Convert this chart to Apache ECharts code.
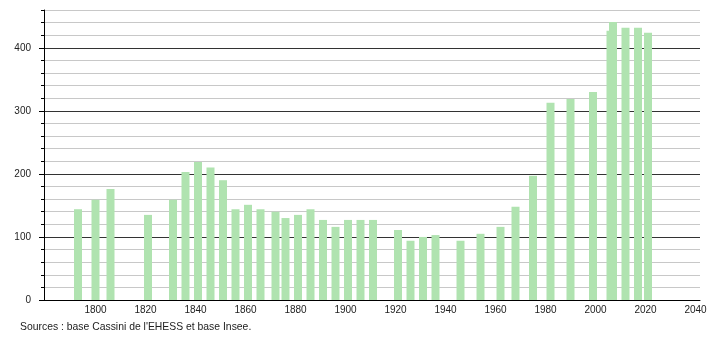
<!DOCTYPE html>
<html>
<head>
<meta charset="utf-8">
<script src="https://cdn.jsdelivr.net/npm/echarts@6/dist/echarts.min.js"></script>
<style>
html,body{margin:0;padding:0;background:#fff;}
#chart{width:710px;height:340px;}
</style>
</head>
<body>
<div id="chart"></div>
<script>
const years = [1793,1800,1806,1821,1831,1836,1841,1846,1851,1856,1861,1866,1872,1876,1881,1886,1891,1896,1901,1906,1911,1921,1926,1931,1936,1946,1954,1962,1968,1975,1982,1990,1999,2006,2007,2012,2017,2021];
const population = [144,159,176,135,159,203,219,210,190,144,151,144,140,130,135,144,127,116,127,127,127,111,94,100,103,94,105,116,148,197,313,319,330,427,441,432,432,424];
const xTickLabels = [1800,1820,1840,1860,1880,1900,1920,1940,1960,1980,2000,2020,2040];
const yTickLabels = [0,100,200,300,400];
const sourceText = "Sources : base Cassini de l'EHESS et base Insee.";

const chart = echarts.init(document.getElementById('chart'), null, {renderer:'canvas'});
const font = 'Liberation Sans, Arial, sans-serif';
chart.setOption({
  animation:false,
  backgroundColor:'#fff',
  grid:{left:44, right:10, top:10, bottom:40, containLabel:false},
  xAxis:{
    type:'value', min:1779.4, max:2041.8,
    axisLine:{show:true, lineStyle:{color:'#000', width:1}},
    axisTick:{show:false},
    splitLine:{show:false},
    axisLabel:{customValues:xTickLabels, formatter:v=>String(v), color:'#222', fontSize:10, fontFamily:font, margin:5}
  },
  yAxis:[{
    type:'value', min:0, max:460, interval:20,
    axisLine:{show:true, lineStyle:{color:'#000', width:1}},
    axisTick:{show:true, length:5, customValues:yTickLabels, lineStyle:{color:'#000'}},
    axisLabel:{customValues:yTickLabels, formatter:v=>String(v), color:'#222', fontSize:10, fontFamily:font, margin:13},
    splitLine:{show:false}
  },{
    type:'value', min:0, max:460, interval:20, position:'left',
    axisLine:{show:false},
    axisTick:{show:true, length:3, lineStyle:{color:'#000'}},
    axisLabel:{show:false},
    splitLine:{show:true, lineStyle:{color:['#333','#c8c8c8','#c8c8c8','#c8c8c8','#c8c8c8'], width:1}}
  }],
  series:[{
    type:'bar', yAxisIndex:0,
    data: years.map((y,i)=>[y, population[i]]),
    barWidth:8,
    itemStyle:{color:'#b0e3b0'},
    z:3
  }],
  graphic:[{
    type:'text', left:20, top:322,
    style:{text:sourceText, fill:'#222', font:'10.4px Liberation Sans, Arial, sans-serif'}
  }]
});
</script>
</body>
</html>
